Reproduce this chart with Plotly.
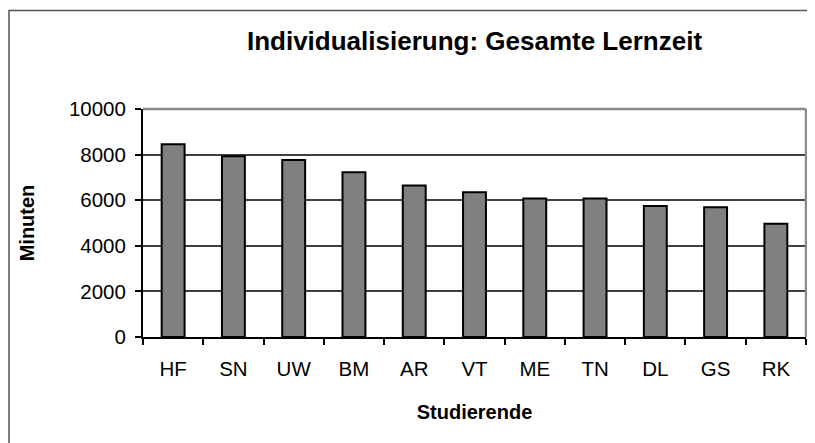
import plotly.graph_objects as go

students = ["HF", "SN", "UW", "BM", "AR", "VT", "ME", "TN", "DL", "GS", "RK"]
minutes = [8450, 7925, 7765, 7225, 6640, 6350, 6070, 6070, 5750, 5690, 4970]
y_ticks = [0, 2000, 4000, 6000, 8000, 10000]

FONT = "Liberation Sans, Arial, sans-serif"

fig = go.Figure(
    go.Bar(
        x=students,
        y=minutes,
        marker=dict(color="#808080", line=dict(color="#000000", width=2)),
    )
)

# page body has an 8px margin, so the figure is sized/offset to compensate
W, H = 807, 435
L, R, T, B = 135, 9, 101, 106
pw, ph = W - L - R, H - T - B


def px(x):
    return (x - L) / pw


def py(y):
    return (H - B - y) / ph


fig.update_layout(
    width=W,
    height=H,
    margin=dict(l=L, r=R, t=T, b=B),
    paper_bgcolor="white",
    plot_bgcolor="white",
    showlegend=False,
    bargap=0.62,
    font=dict(family=FONT, color="black", size=20),
    title=dict(
        text="<b>Individualisierung: Gesamte Lernzeit</b>",
        font=dict(family=FONT, size=26, color="black"),
        x=0.5,
        xref="paper",
        xanchor="center",
        y=1 - 33 / H,
        yref="container",
        yanchor="middle",
    ),
    xaxis=dict(
        title=dict(text="<b>Studierende</b>", font=dict(size=20), standoff=26),
        showline=True,
        linecolor="black",
        linewidth=2,
        ticks="outside",
        tickson="boundaries",
        ticklen=6,
        tickwidth=1.5,
        tickcolor="black",
        ticklabelstandoff=12,
        showgrid=False,
        tickfont=dict(size=20.5),
    ),
    yaxis=dict(
        title=dict(text="<b>Minuten</b>", font=dict(size=20), standoff=29),
        range=[0, 10000],
        tickvals=y_ticks,
        ticktext=[str(v) for v in y_ticks],
        showline=True,
        linecolor="black",
        linewidth=2,
        ticks="outside",
        ticklen=6,
        tickwidth=1.5,
        tickcolor="black",
        ticklabelstandoff=5,
        showgrid=True,
        gridcolor="#404040",
        gridwidth=1.5,
        zeroline=False,
        tickfont=dict(size=20.5),
    ),
    shapes=[
        dict(type="line", xref="paper", yref="paper", x0=0, x1=1, y0=1, y1=1,
             line=dict(color="#8a8a8a", width=2.5)),
        dict(type="line", xref="paper", yref="paper", x0=1, x1=1, y0=0, y1=1,
             line=dict(color="#8a8a8a", width=2.5)),
        dict(type="rect", xref="paper", yref="paper",
             x0=px(1), x1=px(830), y0=py(2.5), y1=py(460),
             line=dict(color="#555555", width=1.5), layer="below"),
    ],
)

fig.write_html("out.html")
